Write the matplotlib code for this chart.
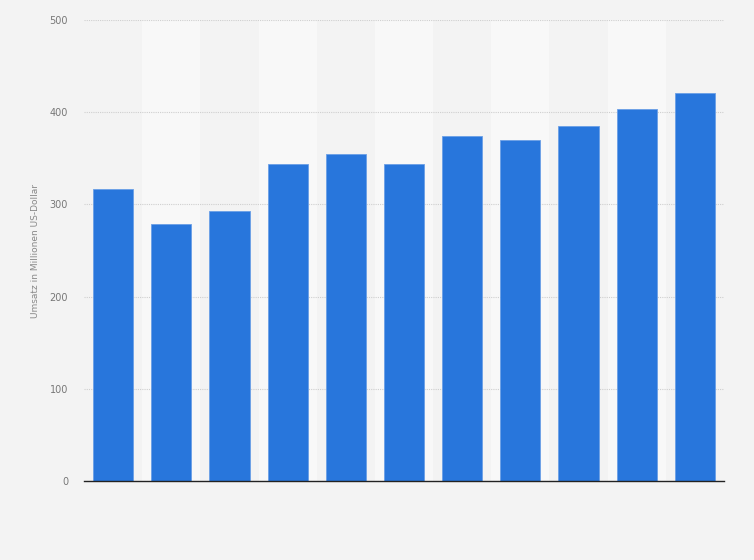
import matplotlib
matplotlib.use('Agg')
import matplotlib.pyplot as plt
import numpy as np

# Umsatz je Jahr (keine Achsenbeschriftung fuer x in der Vorlage)
values = [317.1, 279.2, 293.3, 344.2, 354.9, 344.2, 374.5, 370.0, 385.4, 403.8, 421.1]
yticks = [0, 100, 200, 300, 400, 500]
ylabel = 'Umsatz in Millionen US-Dollar'

bg = '#f3f3f3'
band = '#f8f8f8'
bar_color = '#2876dc'

fig = plt.figure(figsize=(7.54, 5.6), dpi=100, facecolor=bg)
ax = fig.add_axes([84/754, 79/560, 640/754, 461/560])
ax.set_facecolor(bg)

x = np.arange(len(values))
# alternating column bands
for i in x:
    if i % 2 == 1:
        ax.axvspan(i - 0.5, i + 0.5, color=band, zorder=0, lw=0)

ax.bar(x, values, width=0.69, color=bar_color, edgecolor='#6a9fe6', linewidth=0.6, zorder=3)

ax.set_xlim(-0.5, len(values) - 0.5)
ax.set_ylim(0, 500)
ax.set_yticks(yticks)
ax.set_yticklabels([str(t) for t in yticks], fontsize=7, color='#777777')
ax.set_xticks([])
ax.tick_params(axis='y', length=0, pad=11.5)
ax.grid(axis='y', color='#cfcfcf', linestyle=(0, (1, 1)), linewidth=0.8, zorder=1)

for s in ['top', 'right', 'left']:
    ax.spines[s].set_visible(False)
ax.spines['bottom'].set_color('#222222')
ax.spines['bottom'].set_linewidth(1.0)
ax.spines['bottom'].set_zorder(4)

ax.set_ylabel(ylabel, fontsize=6.5, color='#888888')
ax.yaxis.set_label_coords(-44/640, 0.5)

fig.savefig('out.png', dpi=100, facecolor=bg)
